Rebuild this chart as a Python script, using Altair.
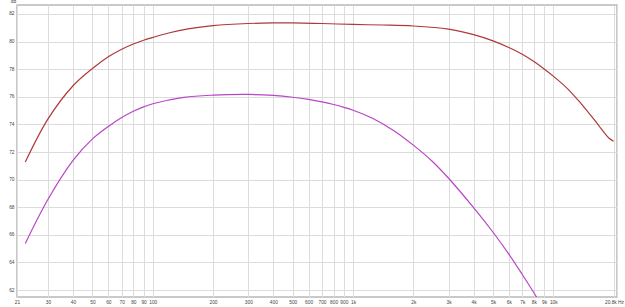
import altair as alt
import pandas as pd

# Red (upper) curve
red_freq = [23.1, 30, 40, 50, 60, 70, 80, 90, 100, 120, 150, 200, 300, 400, 500,
            700, 1000, 1400, 2000, 3000, 4000, 5000, 6000, 7000, 8000, 9000, 10000, 11800, 13700,
            16000, 17000, 18000, 19000, 20000]
red_db = [71.27, 74.4, 76.8, 78.05, 78.9, 79.45, 79.83, 80.1, 80.3, 80.62,
          80.92, 81.16, 81.31, 81.35, 81.35, 81.31, 81.24, 81.2, 81.13, 80.9, 80.5, 80.05, 79.57,
          79.08, 78.55, 78.02, 77.5, 76.58, 75.54, 74.34, 73.85, 73.38, 73.0, 72.78]

# Purple (lower) curve
pur_freq = [23.1, 30, 40, 50, 60, 70, 80, 90, 100, 143, 200, 300, 400, 500,
            600, 700, 800, 900, 1000, 1250, 1600, 2000, 2500, 3000, 4000, 5000, 6000, 7000,
            8000, 9000]
pur_db = [65.38, 68.58, 71.4, 72.95, 73.85, 74.5, 74.95, 75.27, 75.5,
          75.96, 76.12, 76.17, 76.1, 75.97, 75.81, 75.63, 75.44, 75.24, 75.03, 74.45,
          73.55, 72.5, 71.3, 70.1, 67.97, 66.19, 64.6, 63.13, 61.81, 60.55]

series_names = ["Red", "Purple"]
series_colors = ["#b03838", "#b845c6"]

x_ticks = [21, 30, 40, 50, 60, 70, 80, 90, 100, 200, 300, 400, 500, 600, 700, 800, 900,
           1000, 2000, 3000, 4000, 5000, 6000, 7000, 8000, 9000, 10000, 20000, 20800]
x_labels = ["21", "30", "40", "50", "60", "70", "80", "90", "100", "200", "300", "400", "500",
            "600", "700", "800", "900", "1k", "2k", "3k", "4k", "5k", "6k", "7k", "8k", "9k",
            "10k", "", "20.8k Hz"]
y_ticks = [62, 64, 66, 68, 70, 72, 74, 76, 78, 80, 82]

df = pd.concat([
    pd.DataFrame({"freq": red_freq, "db": red_db, "series": series_names[0]}),
    pd.DataFrame({"freq": pur_freq, "db": pur_db, "series": series_names[1]}),
])

label_expr = ""
for v, l in zip(x_ticks, x_labels):
    label_expr += f"datum.value == {v} ? '{l}' : "
label_expr += "''"

FONT = "Liberation Sans"
GRID = "#dcdcdc"

chart = alt.Chart(df).mark_line(strokeWidth=1.2, clip=True, interpolate="catmull-rom").encode(
    x=alt.X("freq:Q",
            scale=alt.Scale(type="log", domain=[21, 20800], nice=False),
            axis=alt.Axis(values=x_ticks, labelExpr=label_expr, title=None, grid=True,
                          gridColor=GRID, tickSize=0, domain=False, labelFontSize=4.8,
                          labelColor="#444444", labelPadding=2, labelOverlap=False,
                          labelFlush=False, labelBound=False, labelFont=FONT,
                          labelOffset={"condition": {"test": "datum.value == 20800", "value": -3},
                                       "value": 0})),
    y=alt.Y("db:Q",
            scale=alt.Scale(domain=[61.5, 82.65], nice=False, zero=False),
            axis=alt.Axis(values=y_ticks, title="dB", titleAngle=0, titleX=-4, titleY=-1.5,
                          titleFontSize=4.5, titleFontWeight="normal", titleAlign="center",
                          titleBaseline="bottom", titleColor="#444444", titleFont=FONT,
                          labelFontSize=4.8, labelColor="#444444", labelFont=FONT,
                          tickSize=0, domain=False, grid=True, gridColor=GRID,
                          labelPadding=3, labelOverlap=False, labelFlush=False)),
    color=alt.Color("series:N", scale=alt.Scale(domain=series_names, range=series_colors),
                    legend=None),
    detail="series:N",
).properties(
    width=600, height=292,
    padding={"left": 17, "top": 5, "right": 8, "bottom": 10},
    autosize=alt.AutoSizeParams(type="none"),
    background="white",
).configure_view(stroke="#b8b8b8", strokeWidth=1.5)

chart.save("out.html", embed_options={"renderer": "svg", "actions": False})
